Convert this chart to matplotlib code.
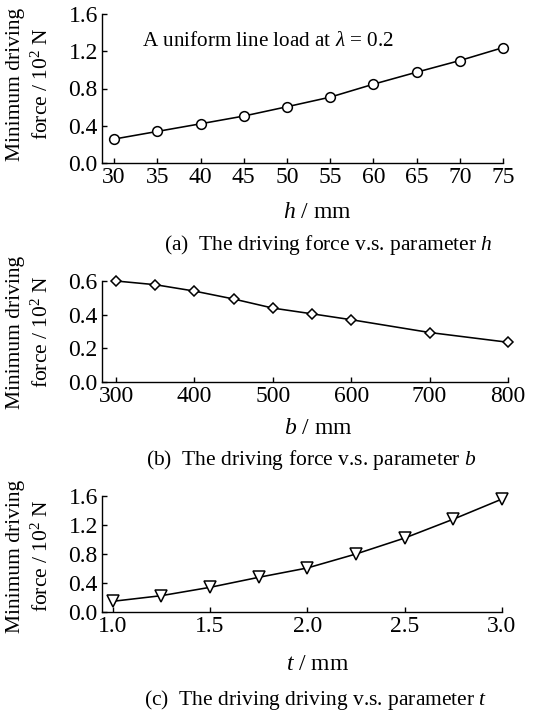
import matplotlib
matplotlib.use("Agg")
import matplotlib.pyplot as plt

plt.rcParams['font.family'] = ['Liberation Serif', 'DejaVu Serif']
plt.rcParams['mathtext.fontset'] = 'custom'
plt.rcParams['mathtext.rm'] = 'Liberation Serif'
plt.rcParams['mathtext.it'] = 'Liberation Serif:italic'

# Panel (a): force vs h
h_vals = [30, 35, 40, 45, 50, 55, 60, 65, 70, 75]
force_h = [0.257, 0.339, 0.421, 0.504, 0.604, 0.707, 0.846, 0.975, 1.10, 1.239]
h_ticks = [30, 35, 40, 45, 50, 55, 60, 65, 70, 75]
a_yticks = [0.0, 0.4, 0.8, 1.2, 1.6]

# Panel (b): force vs b
b_vals = [300, 350, 400, 450, 500, 550, 600, 700, 800]
force_b = [0.600, 0.578, 0.540, 0.493, 0.439, 0.405, 0.370, 0.294, 0.236]
b_ticks = [300, 400, 500, 600, 700, 800]
b_yticks = [0.0, 0.2, 0.4, 0.6]

# Panel (c): force vs t
t_vals = [1.0, 1.25, 1.5, 1.75, 2.0, 2.25, 2.5, 2.75, 3.0]
force_t = [0.147, 0.225, 0.340, 0.478, 0.607, 0.800, 1.020, 1.280, 1.558]
t_ticks = [1.0, 1.5, 2.0, 2.5, 3.0]
c_yticks = [0.0, 0.4, 0.8, 1.2, 1.6]

W, H = 537, 718
fig = plt.figure(figsize=(W / 100, H / 100), dpi=100)

FS = 15.5     # labels / captions
TFS = 17      # tick labels
LW = 1.15


def px_axes(left, right, top, bottom):
    return fig.add_axes([left / W, 1 - bottom / H, (right - left) / W, (bottom - top) / H])


def style(ax):
    for s in ['top', 'right']:
        ax.spines[s].set_visible(False)
    for s in ['left', 'bottom']:
        ax.spines[s].set_linewidth(1.0)
    ax.tick_params(direction='in', length=3.5, width=1.0, labelsize=TFS, pad=3)


def add_ylabel(ycenter_px):
    fig.text(16 / W, 1 - ycenter_px / H, "Minimum driving", rotation=90,
             ha='center', va='center', fontsize=FS)
    fig.text(42 / W, 1 - ycenter_px / H, "force / 10$^2$ N", rotation=90,
             ha='center', va='center', fontsize=FS)


def ftext(x, y, s, **kw):
    fig.text(x / W, 1 - y / H, s, va='center', **kw)


# (a)
ax1 = px_axes(102, 503, 14, 163)
ax1.plot(h_vals, force_h, color='black', lw=LW, marker='o', ms=7,
         mfc='white', mec='black', mew=1.1, clip_on=False)
ax1.set_xlim(28.6, 75)
ax1.set_ylim(0, 1.6)
ax1.set_xticks(h_ticks)
ax1.set_yticks(a_yticks)
ax1.set_yticklabels([f"{v:.1f}" for v in a_yticks])
style(ax1)
ftext(142, 41, "A uniform line load at $\\lambda$ = 0.2", ha='left', fontsize=15.2)
add_ylabel(84)
ftext(317, 212, "$\\mathit{h}$ / mm", ha='center', fontsize=TFS)
ftext(328, 245, "(a)  The driving force v.s. parameter $\\mathit{h}$", ha='center', fontsize=FS)

# (b)
ax2 = px_axes(102, 508, 281, 382)
ax2.plot(b_vals, force_b, color='black', lw=LW, marker='D', ms=5.5,
         mfc='white', mec='black', mew=1.1, clip_on=False)
ax2.set_xlim(282, 800)
ax2.set_ylim(0, 0.6)
ax2.set_xticks(b_ticks)
ax2.set_yticks(b_yticks)
ax2.set_yticklabels([f"{v:.1f}" for v in b_yticks])
style(ax2)
add_ylabel(332)
ftext(318, 428, "$\\mathit{b}$ / mm", ha='center', fontsize=TFS)
ftext(311, 460, "(b)  The driving force v.s. parameter $\\mathit{b}$", ha='center', fontsize=FS)

# (c)
ax3 = px_axes(102, 502, 496, 612)
ax3.plot(t_vals, force_t, color='black', lw=LW, marker='v', ms=8,
         mfc='white', mec='black', mew=1.1, clip_on=False)
ax3.set_xlim(0.946, 3.0)
ax3.set_ylim(0, 1.6)
ax3.set_xticks(t_ticks)
ax3.set_xticklabels([f"{v:.1f}" for v in t_ticks])
ax3.set_yticks(c_yticks)
ax3.set_yticklabels([f"{v:.1f}" for v in c_yticks])
style(ax3)
add_ylabel(556)
ftext(318, 665, "$\\mathit{t}$ / mm", ha='center', fontsize=TFS)
ftext(316, 700, "(c)  The driving driving v.s. parameter $\\mathit{t}$", ha='center', fontsize=FS)

fig.savefig("out.png", dpi=100)
